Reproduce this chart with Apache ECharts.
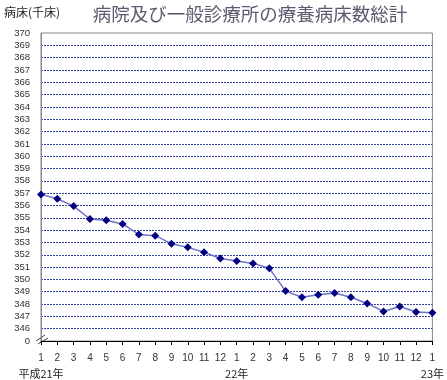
<!DOCTYPE html>
<html>
<head>
<meta charset="utf-8">
<script src="https://cdn.jsdelivr.net/npm/echarts@6/dist/echarts.min.js"></script>
<style>html,body{margin:0;padding:0;background:#fff}#c{width:447px;height:380px}</style>
</head>
<body>
<div id="c"></div>
<script>
const months = ['1','2','3','4','5','6','7','8','9','10','11','12','1','2','3','4','5','6','7','8','9','10','11','12','1'];
const beds = [356.9, 356.55, 355.95, 354.9, 354.8, 354.5, 353.65, 353.55, 352.9, 352.6, 352.2, 351.7, 351.5, 351.3, 350.9, 349.05, 348.55, 348.75, 348.9, 348.55, 348.05, 347.4, 347.8, 347.35, 347.3];
const yearNames = ['平成21年', '22年', '23年'];
const yearStartIdx = [0, 12, 24];
const yMin = 345, yMax = 370;

const splitColors = [];
for (let v = yMin; v <= yMax; v++) splitColors.push((v === yMin || v === yMax) ? 'rgba(0,0,0,0)' : '#3544a4');

const chart = echarts.init(document.getElementById('c'));
chart.setOption({
  animation: false,
  textStyle: { fontFamily: '"Noto Sans CJK JP", sans-serif' },
  title: [{
    text: '病院及び一般診療所の療養病床数総計',
    left: 245, top: 0, textAlign: 'center',
    textStyle: { fontSize: 18.5, fontWeight: 'normal', color: '#5a5a70', fontFamily: '"Noto Sans CJK JP", sans-serif' }
  }, {
    text: '病床(千床)',
    left: -1, top: 1,
    textStyle: { fontSize: 12, fontWeight: 'normal', color: '#222', fontFamily: '"Noto Sans CJK JP", sans-serif' }
  }],
  grid: { left: 41, right: 10, top: 33, bottom: 39, show: true, borderColor: '#888', borderWidth: 1, backgroundColor: '#fff' },
  xAxis: {
    type: 'category', data: months, boundaryGap: false,
    axisLine: { lineStyle: { color: '#000', width: 1 } },
    axisTick: { show: true, length: 4, lineStyle: { color: '#000' } },
    axisLabel: {
      interval: 0, margin: 10, color: '#333', fontSize: 10,
      formatter: function (v, i) {
        const k = yearStartIdx.indexOf(i);
        return k >= 0 ? '{m|' + v + '}\n{y|' + yearNames[k] + '}' : '{m|' + v + '}\n{y| }';
      },
      rich: {
        m: { fontSize: 10, color: '#333', lineHeight: 15, fontFamily: 'Arial, "Liberation Sans", sans-serif' },
        y: { fontSize: 11, color: '#222', lineHeight: 15 }
      }
    },
    splitLine: { show: false }
  },
  yAxis: {
    type: 'value', min: yMin, max: yMax, interval: 1,
    axisLine: { show: true, lineStyle: { color: '#888' } },
    axisTick: { show: false },
    axisLabel: {
      fontSize: 9.5, color: '#333', margin: 11, fontFamily: 'Arial, "Liberation Sans", sans-serif',
      formatter: function (v) { return v === yMin ? '0' : String(v); }
    },
    splitLine: { show: true, lineStyle: { type: [2, 1], color: splitColors, width: 1 } }
  },
  graphic: [
    { type: 'line', shape: { x1: 36, y1: 341, x2: 45, y2: 335 }, style: { stroke: '#444', lineWidth: 1 } },
    { type: 'line', shape: { x1: 38, y1: 344, x2: 48, y2: 338 }, style: { stroke: '#444', lineWidth: 1 } }
  ],
  series: [{
    type: 'line', data: beds,
    lineStyle: { color: '#7070c8', width: 1.5 },
    symbol: 'diamond', symbolSize: 8,
    itemStyle: { color: '#000080' }
  }]
});
</script>
</body>
</html>
